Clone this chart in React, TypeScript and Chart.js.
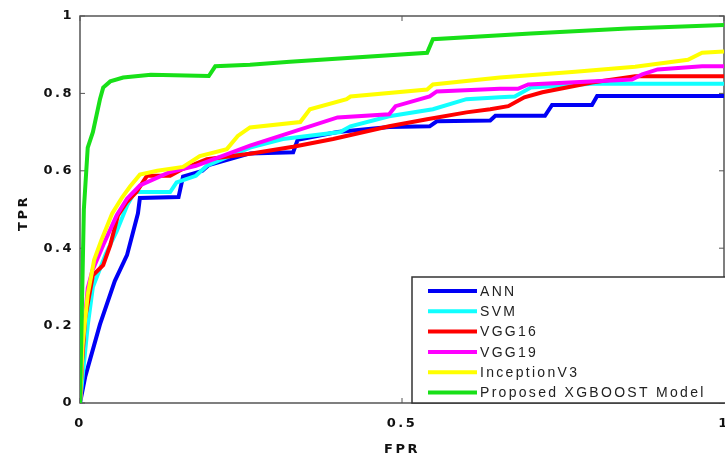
import React, { useEffect, useRef } from "react";
import { Chart, registerables } from "chart.js";

Chart.register(...registerables);

const seriesNames = ["ANN", "SVM", "VGG16", "VGG19", "InceptionV3", "Proposed XGBOOST Model"];
const seriesColors = ["#0000f5", "#11ffff", "#ff0000", "#ff00ff", "#ffff00", "#18e018"];

const annFpr = [0, 0.008, 0.031, 0.054, 0.073, 0.081, 0.09, 0.093, 0.153, 0.16, 0.19, 0.2, 0.264, 0.331, 0.338, 0.4, 0.48, 0.543, 0.554, 0.637, 0.645, 0.722, 0.733, 0.795, 0.803, 1];
const annTpr = [0, 0.067, 0.203, 0.315, 0.382, 0.433, 0.49, 0.53, 0.532, 0.585, 0.6, 0.615, 0.645, 0.648, 0.68, 0.7, 0.713, 0.715, 0.728, 0.73, 0.742, 0.742, 0.77, 0.77, 0.793, 0.793];

const svmFpr = [0, 0.006, 0.012, 0.02, 0.04, 0.057, 0.073, 0.085, 0.14, 0.15, 0.18, 0.197, 0.264, 0.315, 0.404, 0.42, 0.48, 0.548, 0.6, 0.652, 0.675, 0.7, 0.795, 1];
const svmTpr = [0, 0.1, 0.2, 0.3, 0.385, 0.444, 0.51, 0.545, 0.545, 0.57, 0.587, 0.613, 0.66, 0.682, 0.7, 0.715, 0.741, 0.759, 0.785, 0.79, 0.792, 0.815, 0.825, 0.825];

const vgg16Fpr = [0, 0.003, 0.008, 0.02, 0.036, 0.047, 0.059, 0.073, 0.088, 0.104, 0.14, 0.16, 0.197, 0.264, 0.331, 0.393, 0.48, 0.539, 0.6, 0.637, 0.665, 0.69, 0.718, 0.795, 0.862, 1];
const vgg16Tpr = [0, 0.1, 0.22, 0.33, 0.356, 0.408, 0.485, 0.52, 0.546, 0.587, 0.587, 0.605, 0.63, 0.644, 0.662, 0.682, 0.715, 0.733, 0.751, 0.759, 0.767, 0.79, 0.803, 0.828, 0.844, 0.844];

const vgg19Fpr = [0, 0.004, 0.012, 0.019, 0.036, 0.057, 0.073, 0.093, 0.14, 0.18, 0.264, 0.4, 0.48, 0.49, 0.543, 0.554, 0.652, 0.68, 0.696, 0.857, 0.873, 0.897, 0.966, 1];
const vgg19Tpr = [0, 0.15, 0.297, 0.341, 0.408, 0.485, 0.528, 0.562, 0.597, 0.613, 0.665, 0.738, 0.746, 0.767, 0.792, 0.805, 0.812, 0.812, 0.823, 0.836, 0.849, 0.862, 0.87, 0.87];

const inceptionFpr = [0, 0.004, 0.012, 0.022, 0.033, 0.05, 0.065, 0.078, 0.093, 0.12, 0.16, 0.186, 0.228, 0.245, 0.264, 0.342, 0.357, 0.414, 0.42, 0.539, 0.548, 0.652, 0.769, 0.862, 0.944, 0.966, 1];
const inceptionTpr = [0, 0.15, 0.28, 0.37, 0.42, 0.49, 0.53, 0.56, 0.59, 0.6, 0.61, 0.638, 0.656, 0.69, 0.712, 0.726, 0.759, 0.785, 0.792, 0.81, 0.823, 0.841, 0.856, 0.869, 0.887, 0.905, 0.908];

const xgbFpr = [0, 0.003, 0.006, 0.012, 0.02, 0.031, 0.036, 0.047, 0.067, 0.11, 0.2, 0.21, 0.264, 0.326, 0.539, 0.548, 0.7, 0.85, 1];
const xgbTpr = [0, 0.25, 0.5, 0.66, 0.7, 0.785, 0.815, 0.831, 0.841, 0.848, 0.845, 0.87, 0.874, 0.882, 0.905, 0.94, 0.955, 0.968, 0.977];

const xTicks = [0, 0.5, 1];
const yTicks = [0, 0.2, 0.4, 0.6, 0.8, 1];
const xTitle = "FPR";
const yTitle = "TPR";

const seriesFpr = [annFpr, svmFpr, vgg16Fpr, vgg19Fpr, inceptionFpr, xgbFpr];
const seriesTpr = [annTpr, svmTpr, vgg16Tpr, vgg19Tpr, inceptionTpr, xgbTpr];

const TICK_FONT = "bold 13px 'DejaVu Sans'";
const LEGEND_FONT = "14px 'Liberation Sans'";

const overlayPlugin = {
  id: "overlay",
  beforeDraw(chart: any) {
    chart.ctx.letterSpacing = "2.5px";
  },
  beforeDatasetsDraw(chart: any) {
    const { ctx, chartArea: a, scales } = chart;
    ctx.save();
    ctx.strokeStyle = "#555555";
    ctx.lineWidth = 1.5;
    ctx.strokeRect(a.left, a.top, a.right - a.left, a.bottom - a.top);
    ctx.lineWidth = 1;
    ctx.beginPath();
    for (const v of yTicks) {
      const py = scales.y.getPixelForValue(v);
      ctx.moveTo(a.left, py);
      ctx.lineTo(a.left + 5, py);
      ctx.moveTo(a.right, py);
      ctx.lineTo(a.right - 5, py);
    }
    for (const v of xTicks) {
      const px = scales.x.getPixelForValue(v);
      ctx.moveTo(px, a.bottom);
      ctx.lineTo(px, a.bottom - 5);
      ctx.moveTo(px, a.top);
      ctx.lineTo(px, a.top + 5);
    }
    ctx.stroke();
    ctx.restore();
  },
  afterDraw(chart: any) {
    const { ctx, chartArea: a } = chart;
    ctx.save();
    // axis titles
    ctx.fillStyle = "#111111";
    ctx.font = TICK_FONT;
    ctx.letterSpacing = "2.5px";
    ctx.textAlign = "center";
    ctx.textBaseline = "middle";
    ctx.fillText(xTitle, (a.left + a.right) / 2, 450);
    ctx.save();
    ctx.translate(24, 213);
    ctx.rotate(-Math.PI / 2);
    ctx.fillText(yTitle, 0, 0);
    ctx.restore();

    // legend box
    const bx = 412;
    const by = 277;
    ctx.fillStyle = "#ffffff";
    ctx.fillRect(bx, by, a.right - bx + 2, a.bottom - by);
    ctx.strokeStyle = "#333333";
    ctx.lineWidth = 1.5;
    ctx.strokeRect(bx, by, a.right - bx + 4, a.bottom - by);
    ctx.font = LEGEND_FONT;
    ctx.letterSpacing = "2.3px";
    ctx.textAlign = "left";
    ctx.textBaseline = "middle";
    seriesNames.forEach((name, i) => {
      const y = 291 + i * 20.3;
      ctx.strokeStyle = seriesColors[i];
      ctx.lineWidth = 4;
      ctx.beginPath();
      ctx.moveTo(428, y);
      ctx.lineTo(477, y);
      ctx.stroke();
      ctx.fillStyle = "#222222";
      ctx.fillText(name, 480, y + 1);
    });
    ctx.restore();
    ctx.letterSpacing = "0px";
  },
};

export default function App() {
  const ref = useRef<HTMLCanvasElement | null>(null);

  useEffect(() => {
    if (!ref.current) return;
    const datasets = seriesNames.map((name, i) => ({
      label: name,
      data: seriesFpr[i].map((x, j) => ({ x, y: seriesTpr[i][j] })),
      borderColor: seriesColors[i],
      backgroundColor: seriesColors[i],
      borderWidth: 4,
      pointRadius: 0,
      tension: 0,
      fill: false,
      order: seriesNames.length - 1 - i,
    }));
    const chart = new Chart(ref.current, {
      type: "line",
      data: { datasets },
      plugins: [overlayPlugin],
      options: {
        animation: false,
        responsive: false,
        devicePixelRatio: 1,
        layout: { padding: { top: 16, right: 1, left: 0, bottom: 0 } },
        plugins: { legend: { display: false }, tooltip: { enabled: false } },
        scales: {
          x: {
            type: "linear",
            min: 0,
            max: 1,
            grid: { display: false, drawTicks: false },
            border: { display: false },
            afterBuildTicks: (s: any) => {
              s.ticks = xTicks.map((v) => ({ value: v }));
            },
            afterFit: (s: any) => {
              s.height = 56;
              s.paddingLeft = 0;
              s.paddingRight = 0;
            },
            ticks: {
              padding: 13,
              maxRotation: 0,
              autoSkip: false,
              color: "#111111",
              font: { family: "'DejaVu Sans'", size: 13, weight: "bold" },
              callback: (v: any) => String(v),
            },
          },
          y: {
            type: "linear",
            min: 0,
            max: 1,
            grid: { display: false, drawTicks: false },
            border: { display: false },
            afterBuildTicks: (s: any) => {
              s.ticks = yTicks.map((v) => ({ value: v }));
            },
            afterFit: (s: any) => {
              s.width = 80;
              s.paddingTop = 0;
              s.paddingBottom = 0;
            },
            ticks: {
              padding: 6,
              autoSkip: false,
              color: "#111111",
              font: { family: "'DejaVu Sans'", size: 13, weight: "bold" },
              callback: (v: any) => String(v),
            },
          },
        },
      },
    } as any);
    return () => chart.destroy();
  }, []);

  return (
    <div style={{ position: "fixed", left: 0, top: 0, width: 725, height: 459, background: "#ffffff" }}>
      <canvas ref={ref} width={725} height={459} style={{ display: "block" }} />
    </div>
  );
}
